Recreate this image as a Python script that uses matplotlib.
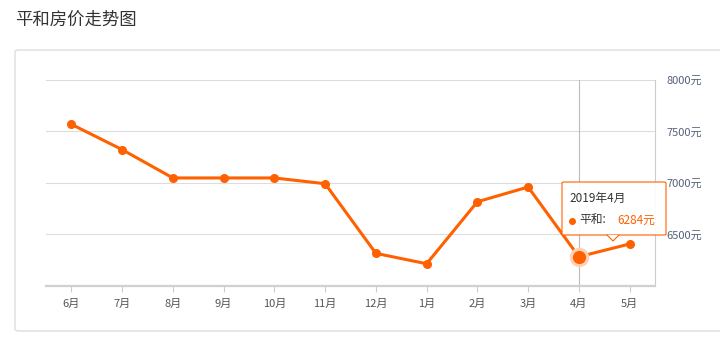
import matplotlib
matplotlib.use("Agg")
import matplotlib.pyplot as plt
from matplotlib.patches import FancyBboxPatch, Polygon
from matplotlib.lines import Line2D

plt.rcParams['font.family'] = ['Noto Sans CJK SC', 'DejaVu Sans']

months = ['6月', '7月', '8月', '9月', '10月', '11月', '12月', '1月', '2月', '3月', '4月', '5月']
prices = [7570, 7324, 7049, 7049, 7049, 6993, 6317, 6216, 6818, 6961, 6284, 6408]
y_ticks = [6500, 7000, 7500, 8000]
y_labels = ['6500元', '7000元', '7500元', '8000元']
title = '平和房价走势图'
hl_index = 10
tooltip_title = '2019年4月'
tooltip_name = '平和:'
tooltip_value = '6284元'

W, H = 720, 343
fig = plt.figure(figsize=(W / 100, H / 100), dpi=100)
fig.patch.set_facecolor('white')

# title
fig.text(15 / W, 1 - 20 / H, title, fontsize=12.5, color='#333333', va='center', ha='left')

# card
card = FancyBboxPatch((15 / W, 1 - 331 / H), (740 - 15) / W, (331 - 50) / H,
                      boxstyle='round,pad=0,rounding_size=0.006', transform=fig.transFigure,
                      facecolor='white', edgecolor='#dddddd', linewidth=1.0, zorder=-5)
fig.patches.append(card)

ax = fig.add_axes([46 / W, 1 - 286 / H, (655 - 46) / W, (286 - 80) / H])
ax.set_zorder(1)
ax.set_facecolor('none')
x = list(range(len(months)))
ax.set_xlim(-0.5, len(months) - 0.5)
ax.set_ylim(6000, 8000)

for s in ['top', 'left']:
    ax.spines[s].set_visible(False)
ax.spines['right'].set_color('#cccccc')
ax.spines['right'].set_linewidth(0.8)
ax.spines['bottom'].set_color('#d0d0d0')
ax.spines['bottom'].set_linewidth(1.6)

ax.set_yticks(y_ticks)
ax.set_yticklabels(y_labels)
ax.yaxis.tick_right()
ax.tick_params(axis='y', length=0, pad=8, labelsize=8, labelcolor='#55607a')
ax.set_xticks(x)
ax.set_xticklabels(months)
ax.tick_params(axis='x', length=4, width=0.8, color='#cccccc', pad=5, labelsize=8, labelcolor='#555555')
ax.grid(axis='y', color='#dcdcdc', linewidth=0.8)
ax.set_axisbelow(True)

# crosshair
ax.axvline(hl_index, color='#bbbbbb', linewidth=0.8, zorder=1)

ax.plot(x, prices, color='#ff6000', linewidth=2.2, marker='o', markersize=5.5, zorder=3, clip_on=False)
# highlighted point
ax.plot([x[hl_index]], [prices[hl_index]], 'o', markersize=13, color='#ffd2b8', zorder=3.5)
ax.plot([x[hl_index]], [prices[hl_index]], 'o', markersize=8.5, color='#ff6000', zorder=4)

# tooltip (figure coords in pixels)
bx0, by0, bx1, by1 = 562, 182, 666, 235
tip = FancyBboxPatch((bx0 / W, 1 - by1 / H), (bx1 - bx0) / W, (by1 - by0) / H,
                     boxstyle='round,pad=0,rounding_size=0.003', transform=fig.transFigure,
                     facecolor=(1, 1, 1, 0.92), edgecolor='#ff6000', linewidth=0.8, zorder=10)
fig.patches.append(tip)
px = 613
tri = Polygon([((px - 6) / W, 1 - by1 / H), ((px + 6) / W, 1 - by1 / H), (px / W, 1 - (by1 + 6) / H)],
              closed=True, transform=fig.transFigure, facecolor='white', edgecolor='none', zorder=11)
fig.patches.append(tri)
fig.lines.append(Line2D([(px - 6) / W, px / W, (px + 6) / W], [1 - by1 / H, 1 - (by1 + 6) / H, 1 - by1 / H],
                        transform=fig.transFigure, color='#ff6000', linewidth=0.8, zorder=12))
fig.text(569 / W, 1 - 198 / H, tooltip_title, fontsize=8.5, color='#333333', va='center', ha='left', zorder=13)
fig.lines.append(Line2D([572 / W], [1 - 221 / H], marker='o', markersize=4, color='#ff6000',
                        transform=fig.transFigure, zorder=13))
fig.text(579 / W, 1 - 220 / H, tooltip_name, fontsize=8.5, color='#333333', va='center', ha='left', zorder=13)
fig.text(617 / W, 1 - 220 / H, tooltip_value, fontsize=8.5, color='#ff6000', va='center', ha='left', zorder=13)

fig.savefig('out.png', dpi=100)
